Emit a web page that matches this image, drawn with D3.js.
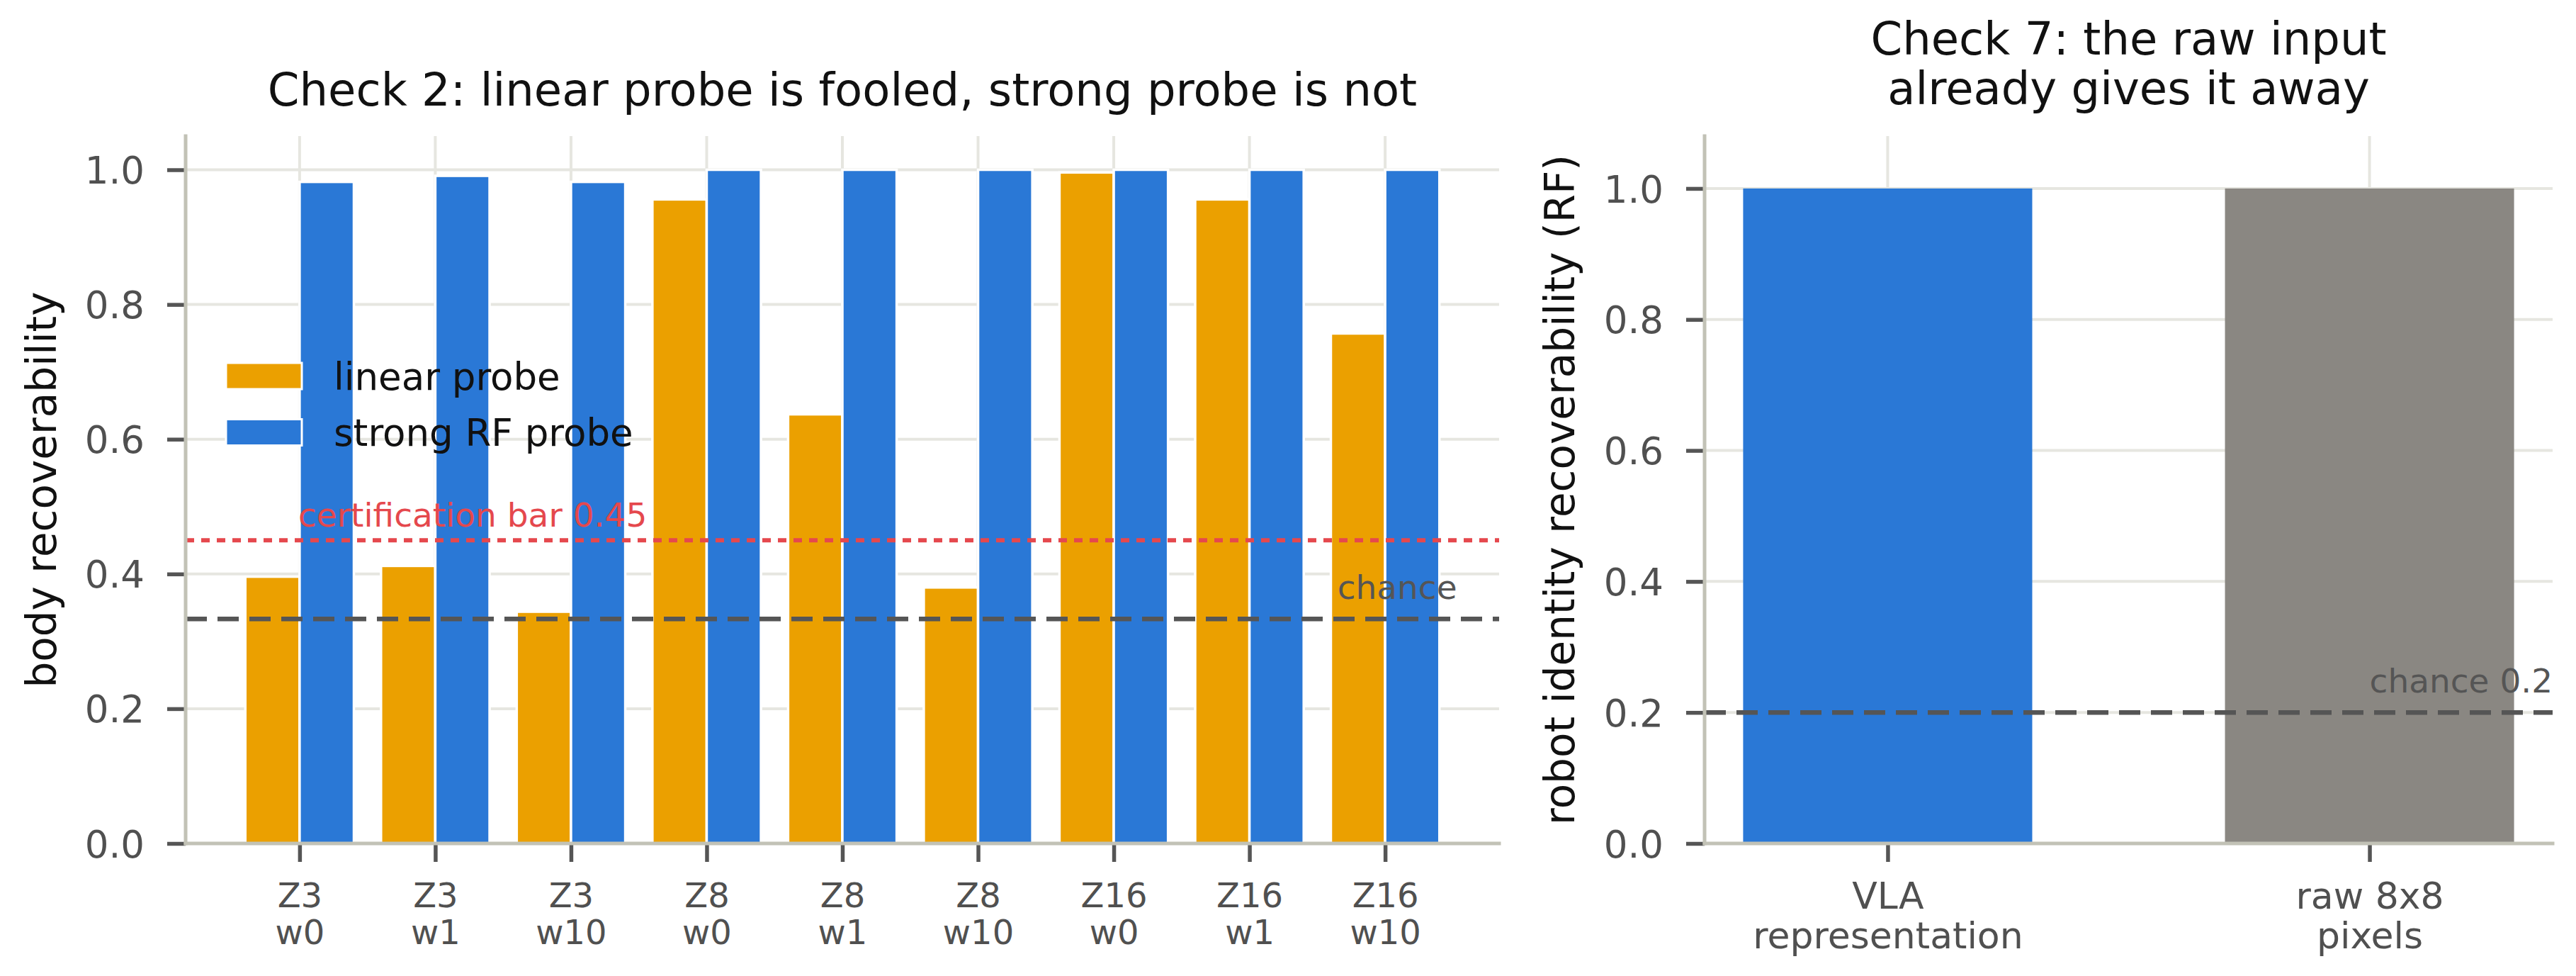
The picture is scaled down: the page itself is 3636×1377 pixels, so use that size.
<!DOCTYPE html>
<html>
<head>
<meta charset="utf-8">
<script src="https://cdn.jsdelivr.net/npm/d3@7"></script>
<style>
  body { margin: 0; background: #fff; }
  svg text { font-family: "DejaVu Sans", sans-serif; }
</style>
</head>
<body>
<svg id="chart" width="3636" height="1377"></svg>
<script>

// ---- data: check 2 (body recoverability) ----
var configs       = ["Z3\nw0", "Z3\nw1", "Z3\nw10", "Z8\nw0", "Z8\nw1", "Z8\nw10", "Z16\nw0", "Z16\nw1", "Z16\nw10"];
var linear_probe  = [0.396, 0.412, 0.344, 0.956, 0.637, 0.380, 0.996, 0.956, 0.757];
var strong_probe  = [0.982, 0.991, 0.982, 1.000, 1.000, 1.000, 1.000, 1.000, 1.000];
var cert_bar      = 0.45;
var chance_body   = 1 / 3;

// ---- data: check 7 (robot identity) ----
var input_labels  = ["VLA\nrepresentation", "raw 8x8\npixels"];
var input_values  = [1.0, 1.0];
var chance_robot  = 0.2;

var y_ticks       = [0.0, 0.2, 0.4, 0.6, 0.8, 1.0];

var W = 3636, H = 1377;
var COL_LIN = "#eba000", COL_RF = "#2a78d6", COL_RAW = "#8a8782";
var COL_SPINE = "#c2c2b6", COL_GRID = "#e6e6e0", COL_TICK = "#555555", COL_TXT = "#505050";
var COL_CERT = "#e5484d", COL_CHANCE = "#555555";

var svg = d3.select("#chart");
svg.append("rect").attr("width", W).attr("height", H).attr("fill", "#fff");

function add_grid( box, xScale, yScale, xticks, yticks ){
    var g = svg.append("g");
    g.selectAll("line.hg").data(yticks).enter().append("line")
        .attr("x1", box.left).attr("x2", box.right)
        .attr("y1", function(d){ return yScale(d); })
        .attr("y2", function(d){ return yScale(d); })
        .attr("stroke", COL_GRID).attr("stroke-width", 4);
    g.selectAll("line.vg").data(xticks).enter().append("line")
        .attr("x1", function(d){ return xScale(d); })
        .attr("x2", function(d){ return xScale(d); })
        .attr("y1", box.top).attr("y2", box.bottom)
        .attr("stroke", COL_GRID).attr("stroke-width", 4);
}

function add_hline( box, yScale, val, color, width, dash ){
    svg.append("line")
        .attr("x1", box.left).attr("x2", box.right)
        .attr("y1", yScale(val)).attr("y2", yScale(val))
        .attr("stroke", color).attr("stroke-width", width)
        .attr("stroke-dasharray", dash);
}

function add_axes( box, xScale, yScale, xticks, xlabels, xsize, xline1, xgap ){
    var ya = svg.append("g")
        .attr("transform", "translate(" + box.left + ",0)")
        .call(d3.axisLeft(yScale).tickValues(y_ticks).tickSize(26).tickPadding(32)
              .tickFormat(d3.format(".1f")));
    ya.select(".domain").remove();
    ya.selectAll(".tick line").attr("stroke", COL_TICK).attr("stroke-width", 5.5);
    ya.selectAll(".tick text")
        .attr("font-size", 53).attr("font-family", "DejaVu Sans, sans-serif")
        .attr("fill", COL_TXT).attr("dy", "0.36em");

    var xa = svg.append("g")
        .attr("transform", "translate(0," + box.bottom + ")")
        .call(d3.axisBottom(xScale).tickValues(xticks).tickSize(26).tickFormat(""));
    xa.select(".domain").remove();
    xa.selectAll(".tick line").attr("stroke", COL_TICK).attr("stroke-width", 5.5);
    xa.selectAll(".tick text").each(function(d, i){
        var t = d3.select(this)
            .attr("y", null).attr("dy", null)
            .attr("font-size", xsize).attr("font-family", "DejaVu Sans, sans-serif")
            .attr("fill", COL_TXT).attr("text-anchor", "middle");
        xlabels[i].split("\n").forEach(function(s, k){
            t.append("tspan").attr("x", 0).attr("y", xline1 + k * xgap).text(s);
        });
    });

    // spines (left + bottom only)
    svg.append("line")
        .attr("x1", box.left).attr("x2", box.left)
        .attr("y1", box.top).attr("y2", box.bottom)
        .attr("stroke", COL_SPINE).attr("stroke-width", 5).attr("stroke-linecap", "square");
    svg.append("line")
        .attr("x1", box.left).attr("x2", box.right)
        .attr("y1", box.bottom).attr("y2", box.bottom)
        .attr("stroke", COL_SPINE).attr("stroke-width", 5).attr("stroke-linecap", "square");
}

function add_title( box, lines, lastBaseline, gap ){
    var t = svg.append("text")
        .attr("text-anchor", "middle").attr("font-size", 64).attr("fill", "#111");
    lines.forEach(function(s, k){
        t.append("tspan")
            .attr("x", (box.left + box.right) / 2)
            .attr("y", lastBaseline - (lines.length - 1 - k) * gap)
            .text(s);
    });
}

function add_ylabel( x, box, label ){
    svg.append("text")
        .attr("transform", "translate(" + x + "," + ((box.top + box.bottom) / 2) + ") rotate(-90)")
        .attr("text-anchor", "middle").attr("font-size", 58).attr("fill", "#111")
        .text(label);
}

// ================= left panel =================
var boxL = {left: 262, right: 2116, top: 192, bottom: 1190};
var idx = d3.range(configs.length);
var bw = 0.4;
var xL = d3.scaleLinear().domain([-0.84, configs.length - 1 + 0.84]).range([boxL.left, boxL.right]);
var yL = d3.scaleLinear().domain([0, 1.05]).range([boxL.bottom, boxL.top]);

add_grid(boxL, xL, yL, idx, y_ticks);

var series = [{vals: linear_probe, off: -bw, color: COL_LIN},
              {vals: strong_probe, off: 0,   color: COL_RF}];
series.forEach(function(s){
    svg.append("g").selectAll("rect").data(s.vals).enter().append("rect")
        .attr("x", function(d, i){ return xL(i + s.off); })
        .attr("width", function(d, i){ return xL(i + s.off + bw) - xL(i + s.off); })
        .attr("y", function(d){ return yL(d); })
        .attr("height", function(d){ return yL(0) - yL(d); })
        .attr("fill", s.color).attr("stroke", "#fff").attr("stroke-width", 3.5);
});

add_hline(boxL, yL, cert_bar, COL_CERT, 6, "12,10");
add_hline(boxL, yL, chance_body, COL_CHANCE, 6.5, "30,15");

svg.append("text")
    .attr("x", xL(-0.01)).attr("y", yL(cert_bar + 0.02))
    .attr("font-size", 47).attr("fill", COL_CERT)
    .text("certification bar " + cert_bar.toFixed(2));
svg.append("text")
    .attr("x", xL(8.53)).attr("y", yL(chance_body + 0.03))
    .attr("text-anchor", "end").attr("font-size", 47).attr("fill", COL_CHANCE)
    .text("chance");

// legend
var legend_items = [{label: "linear probe", color: COL_LIN}, {label: "strong RF probe", color: COL_RF}];
var lg = svg.append("g").attr("transform", "translate(" + (boxL.left + 57) + ",512)");
legend_items.forEach(function(it, k){
    lg.append("rect").attr("x", 0).attr("y", k * 79.5).attr("width", 107).attr("height", 37)
        .attr("fill", it.color).attr("stroke", "#fff").attr("stroke-width", 3);
    lg.append("text").attr("x", 152).attr("y", k * 79.5 + 18.5).attr("dy", "0.36em")
        .attr("font-size", 53).attr("fill", "#111").text(it.label);
});

add_axes(boxL, xL, yL, idx, configs, 48, 90, 52);
add_title(boxL, ["Check 2: linear probe is fooled, strong probe is not"], 149, 70);
add_ylabel(79, boxL, "body recoverability");

// ================= right panel =================
var boxR = {left: 2406, right: 3603, top: 192, bottom: 1190};
var idxR = d3.range(input_labels.length);
var bwR = 0.6;
var xR = d3.scaleLinear().domain([-0.38, 1.38]).range([boxR.left, boxR.right]);
var yR = d3.scaleLinear().domain([0, 1.08]).range([boxR.bottom, boxR.top]);

add_grid(boxR, xR, yR, idxR, y_ticks);

svg.append("g").selectAll("rect").data(input_values).enter().append("rect")
    .attr("x", function(d, i){ return xR(i - bwR / 2); })
    .attr("width", function(d, i){ return xR(i + bwR / 2) - xR(i - bwR / 2); })
    .attr("y", function(d){ return yR(d); })
    .attr("height", function(d){ return yR(0) - yR(d); })
    .attr("fill", function(d, i){ return i === 0 ? COL_RF : COL_RAW; });

add_hline(boxR, yR, chance_robot, COL_CHANCE, 6.5, "30,15");
svg.append("text")
    .attr("x", xR(1.0)).attr("y", yR(chance_robot + 0.03))
    .attr("font-size", 47).attr("fill", COL_CHANCE)
    .text("chance " + chance_robot);

add_axes(boxR, xR, yR, idxR, input_labels, 52, 92, 56);
add_title(boxR, ["Check 7: the raw input", "already gives it away"], 147, 70);
add_ylabel(2222, boxR, "robot identity recoverability (RF)");

</script>
</body>
</html>
